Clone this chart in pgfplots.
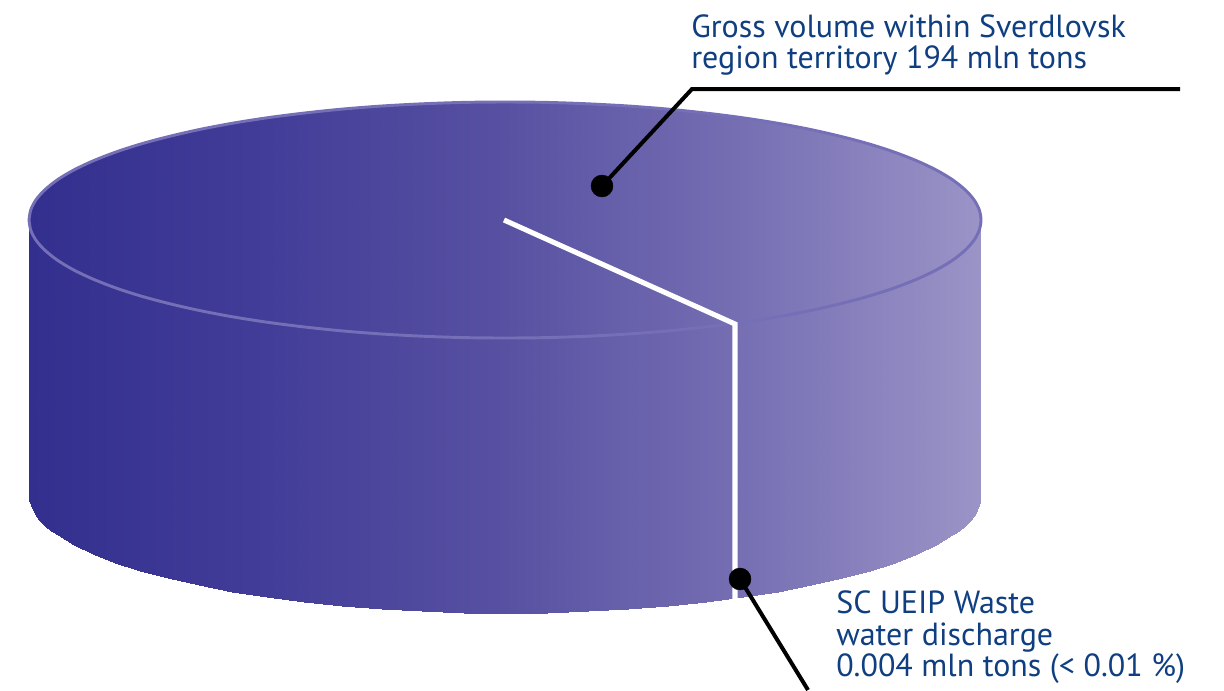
\documentclass[border=0pt]{standalone}
\usepackage{pgfplots}
\pgfplotsset{compat=1.18}
\usepackage{fontspec}
\setmainfont{PT Sans}
\definecolor{labelblue}{HTML}{0F3F80}
\definecolor{rim}{HTML}{746FB6}

% upper edge of the top ellipse, then lower edge of the bottom ellipse
\pgfplotstableread{
x y
29 220
29.5 214.9
30.8 209.7
33.1 204.6
36.2 199.5
40.3 194.5
45.2 189.5
51 184.5
57.7 179.6
73.6 170.1
92.8 161
115.1 152.3
140.4 144.1
168.4 136.6
199 129.6
232 123.3
267 117.8
303.8 113.1
342.2 109.1
381.8 106
422.4 103.8
463.5 102.4
505 102
546.5 102.4
587.6 103.8
628.2 106
667.8 109.1
706.2 113.1
743 117.8
778 123.3
811 129.6
841.6 136.6
869.6 144.1
894.9 152.3
917.2 161
936.4 170.1
952.3 179.6
959 184.5
964.8 189.5
969.7 194.5
973.8 199.5
976.9 204.6
979.2 209.7
980.5 214.9
981 220
29 495
29.5 500.1
30.8 505.3
33.1 510.4
36.2 515.5
40.3 520.5
45.2 525.5
51 530.5
57.7 535.4
73.6 544.9
92.8 554
115.1 562.7
140.4 570.9
168.4 578.4
199 585.4
232 591.7
267 597.2
303.8 601.9
342.2 605.9
381.8 609
422.4 611.2
463.5 612.6
505 613
546.5 612.6
587.6 611.2
628.2 609
667.8 605.9
706.2 601.9
743 597.2
778 591.7
811 585.4
841.6 578.4
869.6 570.9
894.9 562.7
917.2 554
936.4 544.9
952.3 535.4
959 530.5
964.8 525.5
969.7 520.5
973.8 515.5
976.9 510.4
979.2 505.3
980.5 500.1
981 495
}\disc

% rim of the top face
\pgfplotstableread{
x y
29 220
30.8 209.7
36.2 199.5
45.2 189.5
57.7 179.6
73.6 170.1
92.8 161
115.1 152.3
140.4 144.1
168.4 136.6
199 129.6
232 123.3
267 117.8
303.8 113.1
342.2 109.1
381.8 106
422.4 103.8
463.5 102.4
505 102
546.5 102.4
587.6 103.8
628.2 106
667.8 109.1
706.2 113.1
743 117.8
778 123.3
811 129.6
841.6 136.6
869.6 144.1
894.9 152.3
917.2 161
936.4 170.1
952.3 179.6
964.8 189.5
973.8 199.5
979.2 209.7
981 220
979.2 230.3
973.8 240.5
964.8 250.5
952.3 260.4
936.4 269.9
917.2 279
894.9 287.7
869.6 295.9
841.6 303.4
811 310.4
778 316.7
743 322.2
706.2 326.9
667.8 330.9
628.2 334
587.6 336.2
546.5 337.6
505 338
463.5 337.6
422.4 336.2
381.8 334
342.2 330.9
303.8 326.9
267 322.2
232 316.7
199 310.4
168.4 303.4
140.4 295.9
115.1 287.7
92.8 279
73.6 269.9
57.7 260.4
45.2 250.5
36.2 240.5
30.8 230.3
29 220
}\rimline

\begin{document}
\begin{tikzpicture}
\begin{axis}[
	scale only axis,
	width=918pt,
	height=517.5pt,
	xmin=0, xmax=1224,
	ymin=0, ymax=690,
	y dir=reverse,
	hide axis,
	colormap={disc}{rgb255=(51,47,142) rgb255=(66,61,152) rgb255=(88,81,162) rgb255=(118,111,179) rgb255=(155,148,199)},
	point meta min=29,
	point meta max=981,
]
\addplot[surf, shader=interp, mesh/rows=2, point meta=x] table[x=x,y=y] {\disc};
\addplot[rim, line width=2.2pt, smooth] table[x=x,y=y] {\rimline};

\addplot[white, line width=3.8pt, line join=miter] coordinates {(504,220) (735,324) (735,600)};
\addplot[black, line width=3pt, line join=miter] coordinates {(1180,89) (692,89) (602,186)};
\addplot[black, line width=3pt] coordinates {(740,579) (808,690)};
\addplot[only marks, mark=*, mark size=8.2pt, black] coordinates {(602,186) (740,579)};

\node[anchor=base west, inner sep=0pt, text=labelblue, font=\fontsize{24}{26}\selectfont] at (axis cs:691,37) {Gross volume within Sverdlovsk};
\node[anchor=base west, inner sep=0pt, text=labelblue, font=\fontsize{24}{26}\selectfont] at (axis cs:691,68) {region territory 194 mln tons};
\node[anchor=base west, inner sep=0pt, text=labelblue, font=\fontsize{24}{26}\selectfont] at (axis cs:836,613) {SC UEIP Waste};
\node[anchor=base west, inner sep=0pt, text=labelblue, font=\fontsize{24}{26}\selectfont] at (axis cs:836,645) {water discharge};
\node[anchor=base west, inner sep=0pt, text=labelblue, font=\fontsize{24}{26}\selectfont] at (axis cs:836,676) {0.004 mln tons (< 0.01 \%)};
\coordinate (sw) at (axis cs:0,690);
\coordinate (ne) at (axis cs:1224,0);
\end{axis}
\pgfresetboundingbox
\useasboundingbox (sw) rectangle (ne);
\end{tikzpicture}
\end{document}
